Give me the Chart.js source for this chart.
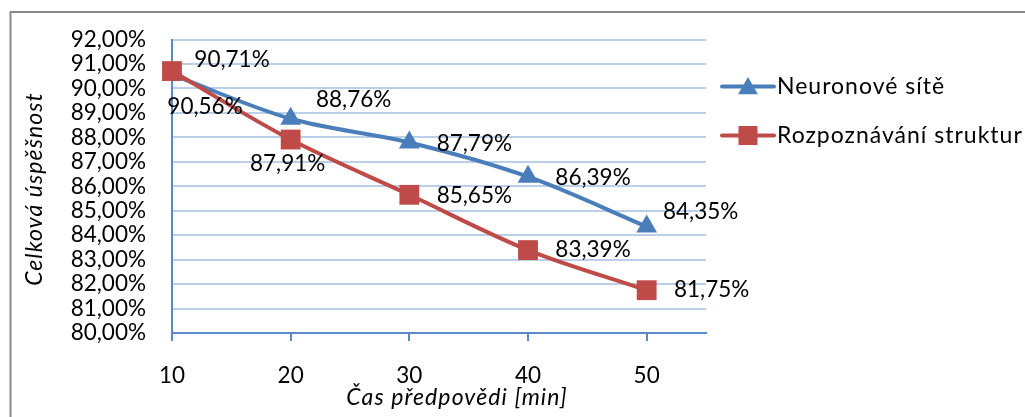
<!DOCTYPE html>
<html>
<head>
<meta charset="utf-8">
<script src="https://cdn.jsdelivr.net/npm/chart.js@4.4.1/dist/chart.umd.min.js"></script>
<style>
  html, body { margin: 0; padding: 0; background: #fff; }
  #wrap { width: 1025px; height: 417px; position: relative; }
</style>
</head>
<body>
<div id="wrap"><canvas id="c" width="1025" height="417"></canvas></div>
<script>
// ---- data ----
const categories = [10, 20, 30, 40, 50];
const seriesNames = ['Neuronové sítě', 'Rozpoznávání struktur'];
const neuronoveSite = [90.56, 88.76, 87.79, 86.39, 84.35];
const rozpoznavaniStruktur = [90.71, 87.91, 85.65, 83.39, 81.75];
const yTickValues = [80, 81, 82, 83, 84, 85, 86, 87, 88, 89, 90, 91, 92];
const xTitle = 'Čas předpovědi [min]';
const yTitle = 'Celková úspěšnost';

// ---- styles / label placement (not data) ----
const FONT = 'Lato';
const NUM_SIZE = 22.5;
const blue = '#4a7ebb';
const red = '#be4b48';
const labelOffsetsBlue = [[33, 32], [63, -19], [65, 1], [65, 1], [54, -15]];
const labelOffsetsRed = [[60, -11], [-3, 24], [65, 1], [65, 0], [65, 0]];

const fmt = v => v.toFixed(2).replace('.', ',') + '%';

function setSpacing(ctx, px) {
  if ('letterSpacing' in ctx) ctx.letterSpacing = px + 'px';
}

const framePlugin = {
  id: 'frame',
  beforeDraw(chart) {
    const ctx = chart.ctx;
    ctx.save();
    ctx.fillStyle = '#fff';
    ctx.fillRect(0, 0, chart.width, chart.height);
    ctx.strokeStyle = '#8a8a8a';
    ctx.lineWidth = 2;
    ctx.strokeRect(10.5, 12, 1100, 500);
    ctx.restore();
  }
};

const labelPlugin = {
  id: 'dataLabels',
  afterDatasetsDraw(chart) {
    const ctx = chart.ctx;
    ctx.save();
    ctx.font = NUM_SIZE + 'px ' + FONT;
    ctx.fillStyle = '#000';
    ctx.textAlign = 'center';
    ctx.textBaseline = 'middle';
    chart.data.datasets.forEach((ds, di) => {
      const meta = chart.getDatasetMeta(di);
      const offs = ds.labelOffsets;
      meta.data.forEach((pt, i) => {
        ctx.fillText(fmt(ds.data[i].y), pt.x + offs[i][0], pt.y + offs[i][1]);
      });
    });
    ctx.restore();
  }
};

function drawMarker(ctx, style, x, y, color) {
  ctx.fillStyle = color;
  ctx.beginPath();
  if (style === 'triangle') {
    const r = 11.5;
    ctx.moveTo(x, y - r);
    ctx.lineTo(x + r * Math.sin(2 * Math.PI / 3), y + r / 2);
    ctx.lineTo(x - r * Math.sin(2 * Math.PI / 3), y + r / 2);
    ctx.closePath();
  } else {
    ctx.rect(x - 9.5, y - 9.5, 19, 19);
  }
  ctx.fill();
}

const legendAndTitlesPlugin = {
  id: 'customLegend',
  afterDraw(chart) {
    const ctx = chart.ctx;
    const ys = [86.5, 135.5];
    ctx.save();
    chart.data.datasets.forEach((ds, i) => {
      const y = ys[i];
      ctx.strokeStyle = ds.borderColor;
      ctx.lineWidth = 4;
      ctx.lineCap = 'round';
      ctx.beginPath();
      ctx.moveTo(722, y);
      ctx.lineTo(774, y);
      ctx.stroke();
      drawMarker(ctx, ds.pointStyle, 748, ds.pointStyle === 'triangle' ? y + 2 : y, ds.backgroundColor);
      ctx.fillStyle = '#000';
      ctx.font = '23px ' + FONT;
      setSpacing(ctx, 1);
      ctx.textAlign = 'left';
      ctx.textBaseline = 'middle';
      ctx.fillText(ds.label, 777, y);
    });
    // axis titles
    ctx.fillStyle = '#000';
    ctx.font = 'italic 23px ' + FONT;
    setSpacing(ctx, 1.1);
    ctx.textAlign = 'center';
    ctx.textBaseline = 'middle';
    ctx.fillText(xTitle, 457, 398);
    ctx.translate(35, 189);
    ctx.rotate(-Math.PI / 2);
    ctx.fillText(yTitle, 0, 0);
    ctx.restore();
  }
};

new Chart(document.getElementById('c'), {
  type: 'line',
  data: {
    datasets: [
      {
        label: seriesNames[0],
        data: categories.map((x, i) => ({ x, y: neuronoveSite[i] })),
        borderColor: blue, backgroundColor: blue,
        borderWidth: 4, tension: 0.33,
        pointStyle: 'triangle', pointRadius: 12, pointBorderWidth: 0,
        labelOffsets: labelOffsetsBlue, order: 2, clip: false
      },
      {
        label: seriesNames[1],
        data: categories.map((x, i) => ({ x, y: rozpoznavaniStruktur[i] })),
        borderColor: red, backgroundColor: red,
        borderWidth: 4, tension: 0.33,
        pointStyle: 'rect', pointRadius: 14, pointBorderWidth: 0,
        labelOffsets: labelOffsetsRed, order: 1, clip: false
      }
    ]
  },
  options: {
    responsive: false,
    animation: false,
    layout: { padding: { left: 0, top: 36, right: 319, bottom: 0 } },
    plugins: { legend: { display: false }, tooltip: { enabled: false } },
    scales: {
      x: {
        type: 'linear', min: 10, max: 55,
        afterBuildTicks: s => { s.ticks = categories.map(v => ({ value: v })); },
        afterFit: s => { s.height = 84; },
        grid: { drawOnChartArea: false, drawTicks: true, tickLength: 8, color: '#5b88c6', lineWidth: 2 },
        border: { display: true, color: '#5b88c6', width: 2 },
        ticks: { color: '#000', font: { family: FONT, size: NUM_SIZE }, padding: 21, maxRotation: 0, autoSkip: false,
                 callback: v => String(v) },
        title: { display: false }
      },
      y: {
        type: 'linear', min: 80, max: 92,
        afterBuildTicks: s => { s.ticks = yTickValues.map(v => ({ value: v })); },
        afterFit: s => { s.width = 172; },
        grid: { drawTicks: false, color: '#bccfe8', lineWidth: 2 },
        border: { display: true, color: '#5b88c6', width: 2 },
        ticks: { color: '#000', font: { family: FONT, size: NUM_SIZE }, padding: 26, autoSkip: false,
                 callback: v => fmt(v) },
        title: { display: false }
      }
    }
  },
  plugins: [framePlugin, labelPlugin, legendAndTitlesPlugin]
});
</script>
</body>
</html>
